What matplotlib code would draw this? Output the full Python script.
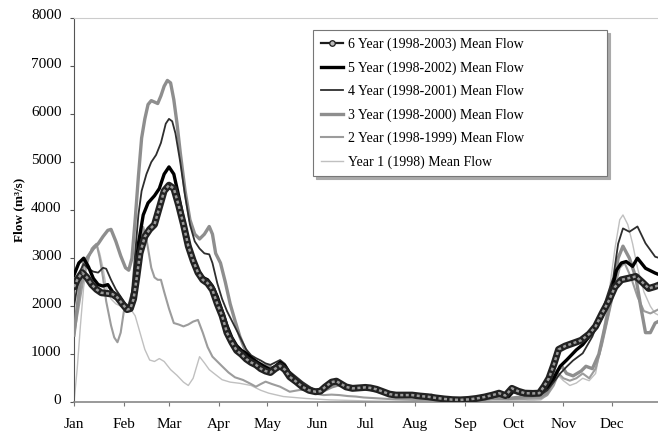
import numpy as np
import matplotlib.pyplot as plt
from matplotlib.lines import Line2D
from matplotlib.transforms import ScaledTranslation

plt.rcParams['font.family'] = ['Liberation Serif', 'DejaVu Serif']

months = ['Jan', 'Feb', 'Mar', 'Apr', 'May', 'Jun', 'Jul', 'Aug', 'Sep', 'Oct', 'Nov', 'Dec']
month_start = [0, 31, 59, 90, 120, 151, 181, 212, 243, 273, 304, 334]

# 6 Year (1998-2003) mean flow
d6 = [0, 2, 5, 8, 11, 14, 17, 20, 24, 27, 30, 33, 35, 37, 39, 41, 44, 47, 50, 53, 56, 59, 62, 65, 68,
      71, 74, 77, 80, 83, 86, 89, 92, 95, 98, 101, 104, 107, 110, 113, 116, 119, 122, 125, 128, 131, 134,
      138, 142, 146, 150, 153, 156, 160, 163, 166, 169, 173, 177, 181, 184, 188, 192, 196, 200, 205, 210,
      215, 220, 225, 230, 235, 240, 245, 250, 255, 260, 264, 268, 272, 276, 280, 285, 289, 292, 295, 298,
      301, 305, 310, 315, 320, 324, 328, 332, 336, 340, 344, 349, 353, 357, 361, 364]
v6 = [2400, 2550, 2700, 2600, 2450, 2350, 2280, 2270, 2250, 2180, 2050, 1930, 1950, 2150, 2600, 3100,
      3450, 3600, 3700, 4050, 4400, 4520, 4450, 4100, 3700, 3250, 2950, 2700, 2550, 2480, 2340, 2050,
      1800, 1450, 1250, 1080, 1000, 900, 830, 780, 700, 650, 620, 700, 760, 680, 530, 430, 320, 250, 220,
      230, 320, 420, 440, 380, 320, 290, 300, 310, 300, 270, 220, 170, 150, 150, 150, 130, 115, 90, 70,
      55, 50, 60, 80, 110, 150, 190, 140, 290, 230, 190, 185, 190, 330, 500, 780, 1100, 1170, 1230,
      1290, 1420, 1580, 1850, 2100, 2400, 2550, 2580, 2620, 2500, 2370, 2410, 2450]

# 5 Year (1998-2002)
d5 = [0, 3, 6, 9, 12, 15, 18, 21, 24, 28, 31, 34, 36, 38, 40, 43, 46, 50, 53, 56, 59, 62, 65, 68, 71,
      74, 77, 80, 83, 86, 89, 92, 95, 98, 101, 104, 107, 110, 114, 118, 122, 125, 128, 131, 134, 138, 142,
      146, 150, 153, 156, 160, 163, 166, 170, 175, 180, 185, 190, 195, 200, 210, 220, 230, 240, 250, 260,
      266, 270, 273, 277, 285, 290, 294, 298, 302, 306, 312, 316, 320, 324, 328, 331, 334, 337, 340, 343,
      347, 350, 355, 361, 364]
v5 = [2650, 2900, 3000, 2820, 2580, 2450, 2420, 2450, 2300, 2200, 2050, 1950, 2050, 2600, 3300, 3900,
      4150, 4300, 4450, 4750, 4900, 4750, 4300, 3800, 3350, 3000, 2750, 2600, 2550, 2420, 2200, 1900,
      1600, 1350, 1180, 1080, 1020, 930, 830, 750, 680, 750, 830, 760, 600, 470, 350, 270, 230, 240, 330,
      430, 450, 390, 320, 300, 310, 290, 250, 180, 160, 150, 120, 80, 50, 70, 130, 170, 130, 260, 200,
      180, 200, 320, 500, 750, 880, 1090, 1200, 1370, 1550, 1780, 2050, 2340, 2750, 2900, 2930, 2830,
      3000, 2790, 2690, 2650]

# 4 Year (1998-2001)
d4 = [0, 2, 4, 6, 9, 12, 15, 18, 20, 23, 26, 29, 32, 34, 36, 38, 40, 42, 45, 48, 51, 54, 57, 59, 61,
      63, 66, 69, 72, 75, 78, 81, 84, 86, 89, 92, 95, 98, 101, 104, 107, 110, 113, 116, 119, 122, 125,
      128, 131, 134, 138, 142, 146, 150, 153, 156, 160, 165, 170, 175, 180, 185, 190, 195, 200, 210, 220,
      230, 240, 250, 260, 266, 270, 273, 278, 285, 290, 294, 298, 302, 306, 310, 316, 322, 328, 332, 335,
      338, 341, 345, 350, 355, 361, 364]
v4 = [2000, 2400, 2750, 2880, 2780, 2720, 2700, 2800, 2780, 2550, 2350, 2200, 2050, 2000, 2300, 3100,
      3900, 4400, 4750, 5000, 5150, 5400, 5800, 5900, 5850, 5600, 5000, 4300, 3700, 3350, 3200, 3100,
      3080, 2900, 2480, 2150, 1900, 1700, 1500, 1300, 1100, 980, 920, 870, 810, 780, 830, 880, 800, 640,
      530, 420, 330, 250, 230, 300, 380, 400, 330, 310, 300, 270, 230, 180, 160, 140, 110, 80, 50, 60,
      100, 140, 100, 200, 150, 140, 160, 250, 420, 600, 740, 870, 1020, 1370, 1890, 2300, 2600, 3300,
      3620, 3550, 3660, 3310, 3030, 3000]

# 3 Year (1998-2000)
d3 = [0, 2, 4, 6, 9, 12, 15, 18, 21, 23, 26, 29, 32, 34, 36, 38, 40, 42, 44, 46, 48, 50, 52, 54, 56,
      58, 60, 62, 64, 66, 69, 72, 75, 78, 81, 84, 86, 88, 91, 94, 97, 100, 103, 106, 109, 113, 117, 121,
      125, 128, 131, 135, 140, 145, 150, 155, 160, 165, 170, 175, 180, 185, 190, 200, 210, 220, 222, 225,
      230, 240, 250, 260, 270, 280, 290, 294, 297, 300, 303, 306, 310, 315, 318, 322, 326, 330, 334, 338,
      341, 345, 349, 352, 355, 358, 361, 364]
v3 = [1400, 2000, 2500, 2900, 3050, 3200, 3300, 3450, 3580, 3600, 3350, 3050, 2800, 2750, 3000, 3800,
      4700, 5500, 5900, 6200, 6280, 6250, 6220, 6380, 6580, 6700, 6650, 6300, 5800, 5200, 4400, 3800,
      3500, 3400, 3500, 3660, 3500, 3100, 2900, 2500, 2050, 1700, 1370, 1120, 950, 850, 780, 750, 700,
      760, 700, 550, 400, 300, 250, 240, 320, 370, 330, 290, 280, 260, 220, 170, 140, 120, 150, 100, 70,
      40, 50, 90, 80, 120, 130, 200, 420, 650, 750, 600, 550, 650, 750, 700, 1000, 1600, 2200, 3000,
      3250, 3000, 2600, 2000, 1450, 1450, 1650, 1700]

# 2 Year (1998-1999)
d2 = [0, 2, 4, 6, 8, 11, 14, 16, 18, 20, 23, 25, 27, 29, 31, 34, 37, 40, 43, 45, 48, 50, 52, 54, 56,
      59, 62, 65, 68, 71, 74, 77, 80, 83, 86, 89, 92, 96, 100, 105, 110, 113, 116, 119, 123, 128, 134,
      140, 145, 150, 155, 160, 165, 170, 175, 180, 190, 200, 210, 220, 230, 240, 250, 260, 270, 280, 290,
      294, 298, 301, 304, 308, 312, 316, 320, 324, 328, 332, 336, 339, 342, 346, 350, 354, 358, 361, 364]
v2 = [1400, 1800, 2200, 2600, 2900, 3200, 3300, 3000, 2600, 2100, 1600, 1350, 1250, 1450, 1900, 2050,
      2400, 3100, 3650, 3400, 2800, 2600, 2550, 2550, 2300, 1950, 1650, 1620, 1580, 1620, 1680, 1715,
      1450, 1150, 950, 850, 750, 620, 520, 465, 380, 325, 380, 430, 380, 325, 220, 255, 260, 180, 150,
      160, 150, 130, 120, 100, 80, 60, 50, 40, 30, 30, 40, 60, 60, 70, 80, 150, 350, 600, 500, 450, 500,
      600, 500, 700, 1200, 1800, 2400, 2800, 2900, 2600, 2200, 1900, 1850, 1900, 1950]

# Year 1 (1998)
d1 = [0, 2, 4, 6, 8, 10, 12, 14, 16, 18, 20, 23, 26, 29, 32, 35, 38, 41, 44, 47, 50, 53, 56, 60, 64,
      68, 71, 74, 78, 81, 84, 87, 92, 97, 103, 110, 116, 121, 130, 144, 159, 170, 180, 200, 220, 240, 260,
      280, 290, 294, 298, 301, 304, 308, 312, 316, 320, 324, 328, 332, 336, 339, 341, 344, 347, 350, 354,
      358, 361, 364]
v1 = [0, 700, 1600, 2400, 2800, 3100, 3250, 3300, 3100, 2800, 2400, 2150, 2050, 2000, 1980, 1950, 1800,
      1450, 1100, 880, 850, 910, 850, 680, 560, 420, 350, 500, 950, 820, 680, 600, 470, 420, 395, 350,
      250, 190, 120, 80, 50, 40, 30, 20, 20, 20, 20, 30, 50, 150, 400, 550, 450, 350, 400, 500, 450, 600,
      1300, 2200, 3200, 3800, 3900, 3700, 3300, 2800, 2300, 2000, 1850, 1800]

fig = plt.figure(figsize=(6.58, 4.34), dpi=100)
ax = fig.add_axes([74 / 658, 31.7 / 434, 587.6 / 658, 384.3 / 434])

ax.plot(d1, v1, color='#c0c0c0', lw=1.0, zorder=2)
ax.plot(d2, v2, color='#9c9c9c', lw=1.5, zorder=3)
ax.plot(d3, v3, color='#8e8e8e', lw=2.4, zorder=4)
ax.plot(d4, v4, color='#2e2e2e', lw=1.3, zorder=5)
ax.plot(d5, v5, color='#000000', lw=2.4, zorder=6)
# 6 year series: chain of open circles
ax.plot(d6, v6, color='#222222', lw=5.0, zorder=7, solid_capstyle='round', solid_joinstyle='round')
ax.plot(d6, v6, color='#9a9a9a', lw=1.8, ls=(0, (1.2, 1.0)), zorder=8)

ax.set_xlim(0, 365)
ax.set_ylim(0, 8000)
ax.set_yticks(range(0, 8001, 1000))
ax.set_xticks(month_start)
ax.set_xticklabels(months)
ax.tick_params(axis='y', direction='out', length=3, width=0.8, color='#555555', labelsize=11, pad=6)
ax.tick_params(axis='x', direction='out', length=3, width=0.8, color='#777777', labelsize=11, pad=8)
shift = ScaledTranslation(0, 3.5 / 100, fig.dpi_scale_trans)
for lab in ax.get_yticklabels():
    lab.set_transform(lab.get_transform() + shift)
ax.spines['right'].set_visible(False)
ax.spines['top'].set_color('#cccccc')
ax.spines['top'].set_linewidth(0.8)
ax.spines['left'].set_color('#555555')
ax.spines['bottom'].set_color('#888888')
ax.spines['bottom'].set_linewidth(1.2)

ax.set_ylabel('Flow (m³/s)', fontsize=9.5, fontweight='bold', labelpad=4)

handles = [
    Line2D([], [], color='#1c1c1c', lw=1.6, marker='o', ms=4, mfc='#bbbbbb', mec='#1c1c1c', mew=0.9),
    Line2D([], [], color='#000000', lw=2.4),
    Line2D([], [], color='#2e2e2e', lw=1.3),
    Line2D([], [], color='#8e8e8e', lw=2.4),
    Line2D([], [], color='#9c9c9c', lw=1.5),
    Line2D([], [], color='#c0c0c0', lw=1.0),
]
labels = ['6 Year (1998-2003) Mean Flow', '5 Year (1998-2002) Mean Flow', '4 Year (1998-2001) Mean Flow',
          '3 Year (1998-2000) Mean Flow', '2 Year (1998-1999) Mean Flow', 'Year 1 (1998) Mean Flow']
leg = ax.legend(handles, labels, loc='upper left',
                bbox_to_anchor=(313 / 658, 1 - 177 / 434, 294 / 658, 147 / 434), mode='expand',
                bbox_transform=fig.transFigure, fontsize=10, frameon=True, fancybox=False,
                handlelength=1.6, handletextpad=0.35, labelspacing=0.72, borderpad=0.55,
                borderaxespad=0, shadow={'color': '#aaaaaa', 'alpha': 1})
leg.get_frame().set_edgecolor('#777777')
leg.get_frame().set_linewidth(0.8)
leg.set_zorder(10)

fig.savefig('out.png', dpi=100)
